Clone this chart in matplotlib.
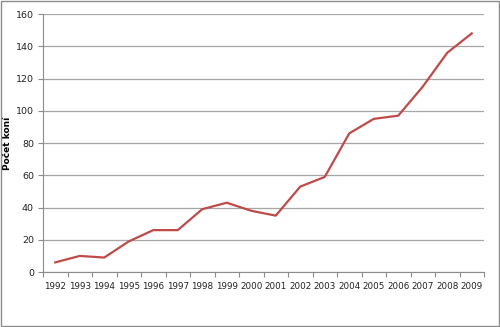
import matplotlib.pyplot as plt
from matplotlib.patches import Rectangle

roky = ['1992', '1993', '1994', '1995', '1996', '1997', '1998', '1999', '2000',
        '2001', '2002', '2003', '2004', '2005', '2006', '2007', '2008', '2009']
pocet_koni = [6, 10, 9, 19, 26, 26, 39, 43, 38, 35, 53, 59, 86, 95, 97, 115, 136, 148]

plt.rcParams['font.family'] = 'DejaVu Sans'

fig = plt.figure(figsize=(5, 3.27), dpi=100)
ax = fig.add_axes([0.086, 0.168, 0.882, 0.789])

x = list(range(len(roky)))
ax.plot(x, pocet_koni, color='#be4b48', linewidth=1.6, zorder=3, solid_joinstyle='round')

ax.set_xlim(-0.5, len(roky) - 0.5)
ax.set_ylim(0, 160)
ax.set_yticks(range(0, 161, 20))
ax.yaxis.grid(True, color='#a6a6a6', linewidth=0.9)
ax.set_axisbelow(True)

# znacky mezi kategoriemi, popisky uprostred
ax.set_xticks([i - 0.5 for i in range(len(roky) + 1)])
ax.set_xticklabels([])
ax.set_xticks(x, minor=True)
ax.set_xticklabels(roky, minor=True)
ax.tick_params(axis='x', which='major', length=3.5, color='#8c8c8c', width=0.8)
ax.tick_params(axis='x', which='minor', length=0, pad=7.5, labelsize=6.3, labelcolor='#222222')
ax.tick_params(axis='y', length=3.5, color='#8c8c8c', width=0.8, labelsize=6.8, labelcolor='#222222', pad=3)

for s in ['top', 'right']:
    ax.spines[s].set_visible(False)
for s in ['left', 'bottom']:
    ax.spines[s].set_color('#8c8c8c')
    ax.spines[s].set_linewidth(0.8)

ax.set_ylabel('Počet koní', fontsize=6.5, fontweight='bold', va='center')
ax.yaxis.set_label_coords(-0.081, 0.5)

fig.patches.append(Rectangle((0.002, 0.003), 0.995, 0.993, transform=fig.transFigure,
                             fill=False, edgecolor='#8c8c8c', linewidth=1.0))

fig.savefig('out.png', dpi=100)
